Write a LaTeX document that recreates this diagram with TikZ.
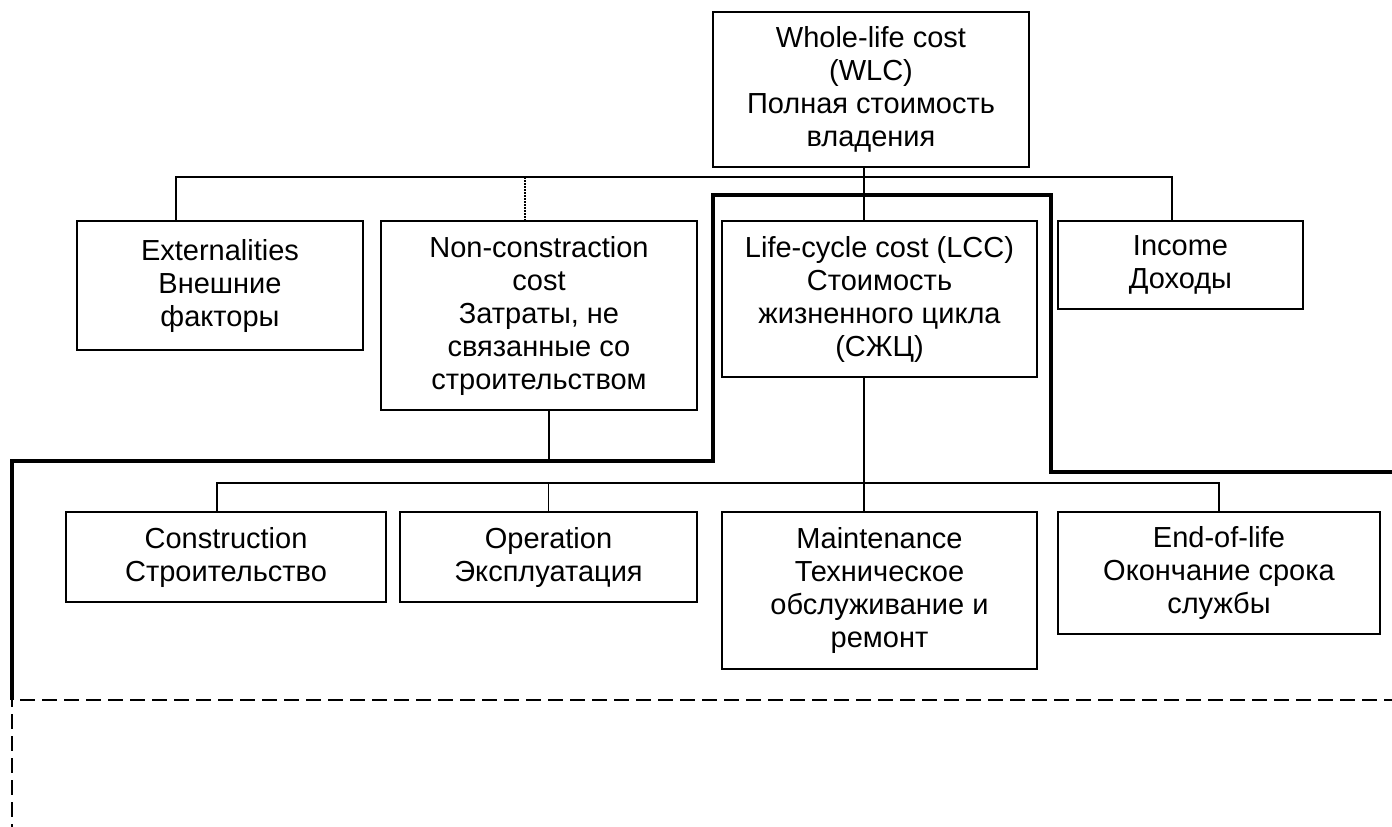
\documentclass[tikz,border=0pt]{standalone}
\usepackage{fontspec}
\setmainfont{Liberation Sans}
\begin{document}
\begin{tikzpicture}[x=1pt,y=-1pt,
  box/.style={draw, line width=1.4pt, align=center, inner sep=0pt,
    font=\fontsize{29}{33}\selectfont},
  conn/.style={line width=1.4pt},
  dotconn/.style={line width=1.3pt, dash pattern=on 1.5pt off 1.5pt},
  thickline/.style={line width=4pt, line join=miter},
  dashline/.style={line width=2.6pt, dash pattern=on 15pt off 7pt}]
\useasboundingbox (0,0) rectangle (1392,827);
% nodes
\node[box, minimum width=316pt, minimum height=155pt] (wlc) at (871,89.5)
  {Whole-life cost\\(WLC)\\Полная стоимость\\владения};
\node[box, minimum width=286pt, minimum height=129pt] (ext) at (220,285.5)
  {Externalities\\Внешние\\факторы};
\node[box, minimum width=316pt, minimum height=189pt] (ncc) at (539,315.5)
  {Non-constraction\\cost\\Затраты, не\\связанные со\\строительством};
\node[box, minimum width=315pt, minimum height=156pt] (lcc) at (879.5,299)
  {Life-cycle cost (LCC)\\Стоимость\\жизненного цикла\\(СЖЦ)};
\node[box, minimum width=245pt, minimum height=88pt] (inc) at (1180.5,265)
  {Income\\Доходы};
\node[box, minimum width=320pt, minimum height=90pt] (con) at (226,557)
  {Construction\\Строительство};
\node[box, minimum width=297pt, minimum height=90pt] (op) at (548.5,557)
  {Operation\\Эксплуатация};
\node[box, minimum width=315pt, minimum height=157pt] (mnt) at (879.5,590.5)
  {Maintenance\\Техническое\\обслуживание и\\ремонт};
\node[box, minimum width=322pt, minimum height=122pt] (eol) at (1219,573)
  {End-of-life\\Окончание срока\\службы};
% coordinates
\coordinate (t1) at (176,177);
\coordinate (t4) at (1172,177);
\coordinate (tc) at (864,177);
\coordinate (d) at (525,177);
\coordinate (b1) at (217,483);
\coordinate (b4) at (1219,483);
\coordinate (ncx) at (549,461);
\coordinate (k0) at (12,700);
\coordinate (k1) at (12,461);
\coordinate (k2) at (713,461);
\coordinate (k3) at (713,195);
\coordinate (k4) at (1051,195);
\coordinate (k5) at (1051,472);
\coordinate (k6) at (1392,472);
\coordinate (dr) at (1392,700);
\coordinate (db) at (12,827);
% top connectors
\draw[conn] (ext.north -| t1) -- (t1) -- (t4) -- (inc.north -| t4);
\draw[conn] (wlc.south -| tc) -- (lcc.north -| tc);
\draw[dotconn] (d) -- (d |- ncc.north);
\draw[conn] (ncc.south -| ncx) -- (ncx);
% lower connectors
\draw[conn] (con.north -| b1) -- (b1) -- (b4) -- (eol.north);
\draw[conn] (op.north) -- (op.north |- b1);
\draw[conn] (lcc.south -| tc) -- (mnt.north -| tc);
% thick boundary
\draw[thickline] (k0) -- (k1) -- (k2) -- (k3) -- (k4) -- (k5) -- (k6);
% dashed boundary
\draw[dashline] ([xshift=8pt]k0) -- (dr);
\draw[dashline] ([yshift=8pt]k0) -- (db);
\end{tikzpicture}
\end{document}
